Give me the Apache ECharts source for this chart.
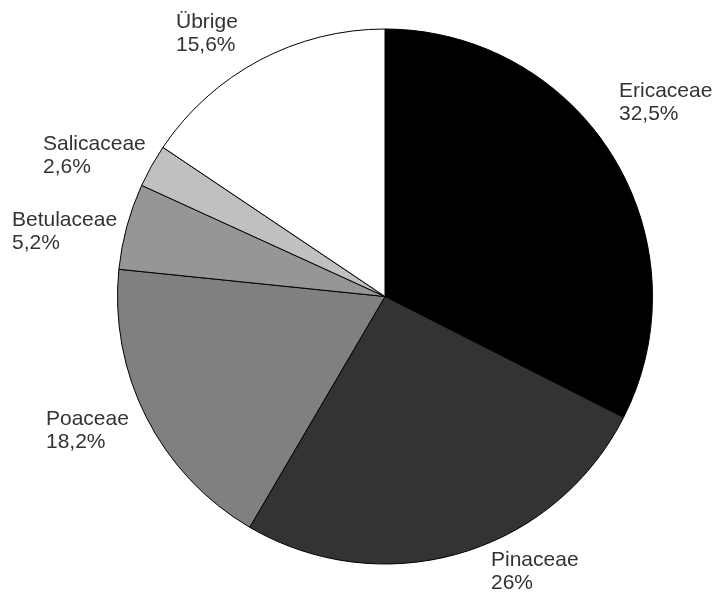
<!DOCTYPE html>
<html><head><meta charset="utf-8">
<script src="https://cdn.jsdelivr.net/npm/echarts@6/dist/echarts.min.js"></script>
<style>html,body{margin:0;padding:0;background:#fff}#c{width:713px;height:595px}</style>
</head><body><div id="c"></div>
<script>
const categories = ["Ericaceae", "Pinaceae", "Poaceae", "Betulaceae", "Salicaceae", "Übrige"];
const values = [32.5, 26, 18.2, 5.2, 2.6, 15.6];
const colors = ["#000000", "#333333", "#808080", "#969696", "#c0c0c0", "#ffffff"];
// label block anchor (left x, vertical centre y)
const labelAnchors = [[619, 103], [491, 572], [46, 431], [12, 232], [43, 156], [176, 34]];

const chart = echarts.init(document.getElementById('c'));
chart.setOption({
  animation: false,
  backgroundColor: '#fff',
  series: [{
    type: 'pie',
    center: [385, 296.5],
    radius: 267.5,
    startAngle: 90,
    clockwise: true,
    data: categories.map((n, i) => ({name: n, value: values[i], itemStyle: {color: colors[i]}})),
    itemStyle: {borderColor: '#000', borderWidth: 1},
    emphasis: {disabled: true},
    labelLine: {show: false},
    label: {
      show: true,
      position: 'outside',
      overflow: 'none',
      color: '#333',
      fontFamily: 'Liberation Sans, Arial, sans-serif',
      fontSize: 21,
      lineHeight: 23,
      align: 'left',
      formatter: p => p.name + '\n' + String(p.value).replace('.', ',') + '%'
    },
    labelLayout: p => ({
      x: labelAnchors[p.dataIndex][0],
      y: labelAnchors[p.dataIndex][1],
      align: 'left',
      verticalAlign: 'middle'
    })
  }]
});
</script></body></html>
